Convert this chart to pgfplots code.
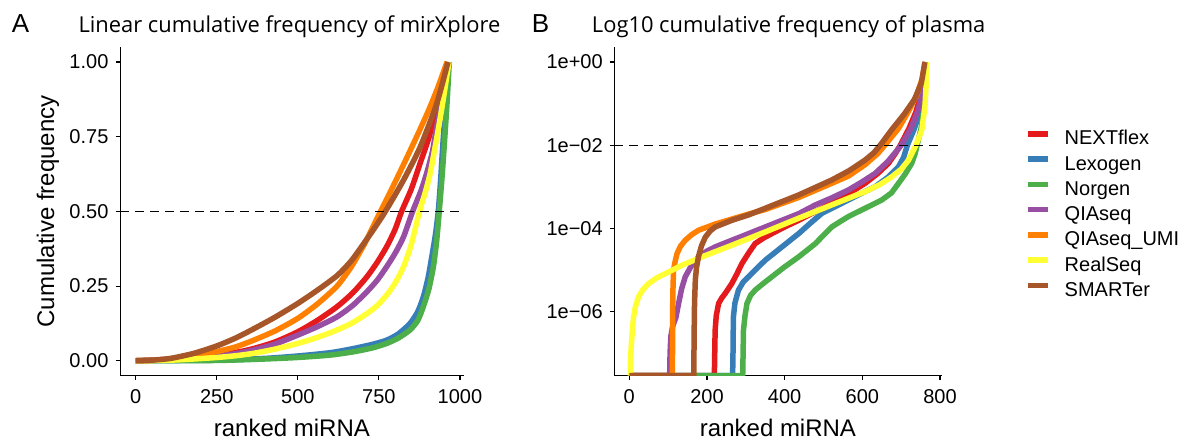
\documentclass[border=0pt]{standalone}
\usepackage{fontspec}
\setmainfont{Liberation Sans}
\newfontfamily\titlefont{Open Sans}
\usepackage{pgfplots}
\pgfplotsset{compat=1.18}

\definecolor{cRed}{HTML}{E41A1C}
\definecolor{cBlue}{HTML}{377EB8}
\definecolor{cGreen}{HTML}{4DAF4A}
\definecolor{cPurple}{HTML}{984EA3}
\definecolor{cOrange}{HTML}{FF7F00}
\definecolor{cYellow}{HTML}{FFFF33}
\definecolor{cBrown}{HTML}{A65628}

\pgfplotsset{
  panel/.style={
    scale only axis,
    axis lines=left,
    axis line style={-, line width=1.1pt, black},
    tick align=outside,
    major tick length=4.5pt,
    tick style={line width=1.1pt, black},
    ticklabel style={font=\fontsize{20}{24}\selectfont, inner sep=0pt},
    yticklabel style={xshift=-7pt},
    xticklabel style={yshift=-9pt},
  },
  curve/.style={line width=5.5pt, line join=round},
  hline/.style={black, line width=1.2pt, dash pattern=on 9pt off 6pt, forget plot},
}

\begin{document}
\begin{tikzpicture}
\useasboundingbox (0,0) rectangle (1182pt,443pt);

% panel A
\begin{axis}[panel,
  at={(120.1pt,67.3pt)}, anchor=south west,
  width=343.5pt, height=328.6pt,
  xmin=-48.15, xmax=1011.15, ymin=-0.05, ymax=1.05,
  xtick={0,250,500,750,1000}, xticklabels={0,250,500,750,1000},
  ytick={0,0.25,0.5,0.75,1}, yticklabels={0.00,0.25,0.50,0.75,1.00},
]
% NEXTflex
\addplot[curve, cRed, smooth, tension=0.4] coordinates {(0,0) (108,0.005) (180,0.011) (251,0.019) (310,0.028) (364,0.041) (430,0.063) (500,0.097) (560,0.135) (621,0.181) (670,0.228) (713,0.281) (745,0.33) (774,0.382) (800,0.44) (820,0.5) (850,0.575) (877,0.661) (905,0.75) (928,0.850) (948,0.93) (962,1)};
% Lexogen
\addplot[curve, cBlue, smooth, tension=0.4] coordinates {(0,0) (251,0.002) (400,0.008) (500,0.016) (600,0.027) (672,0.041) (730,0.055) (774,0.069) (810,0.09) (846,0.125) (870,0.165) (887,0.214) (902,0.28) (913,0.348) (924,0.42) (933,0.5) (940,0.6) (946,0.705) (955,0.85) (964,1)};
% Norgen
\addplot[curve, cGreen, smooth, tension=0.4] coordinates {(0,0) (251,0.001) (400,0.006) (500,0.011) (600,0.019) (672,0.030) (730,0.043) (774,0.058) (810,0.076) (846,0.103) (870,0.135) (887,0.181) (904,0.24) (918,0.315) (928,0.40) (936,0.5) (945,0.62) (954,0.761) (961,0.88) (967,1)};
% QIAseq
\addplot[curve, cPurple, smooth, tension=0.4] coordinates {(0,0) (108,0.004) (180,0.009) (251,0.016) (310,0.024) (364,0.036) (430,0.056) (500,0.086) (560,0.114) (621,0.147) (670,0.186) (713,0.231) (745,0.27) (774,0.315) (800,0.36) (826,0.415) (854,0.5) (880,0.57) (897,0.627) (915,0.70) (928,0.783) (948,0.89) (963,1)};
% QIAseq_UMI
\addplot[curve, cOrange, smooth, tension=0.4] coordinates {(0,0) (50,0.001) (108,0.006) (180,0.017) (251,0.031) (310,0.047) (364,0.069) (430,0.1) (500,0.142) (560,0.19) (621,0.25) (665,0.315) (705,0.39) (730,0.445) (755,0.5) (785,0.565) (815,0.632) (847,0.705) (877,0.775) (905,0.843) (930,0.91) (960,1)};
% RealSeq
\addplot[curve, cYellow, smooth, tension=0.4] coordinates {(0,0) (108,0.002) (180,0.006) (251,0.011) (310,0.017) (364,0.025) (430,0.039) (500,0.058) (560,0.078) (621,0.103) (670,0.128) (713,0.158) (745,0.185) (774,0.22) (800,0.26) (826,0.315) (850,0.39) (875,0.5) (892,0.56) (908,0.627) (924,0.72) (938,0.806) (952,0.9) (966,1)};
% SMARTer
\addplot[curve, cBrown, smooth, tension=0.4] coordinates {(0,0) (50,0.002) (108,0.008) (180,0.025) (251,0.05) (310,0.077) (364,0.107) (430,0.146) (500,0.192) (560,0.236) (621,0.285) (665,0.335) (705,0.395) (740,0.45) (770,0.5) (826,0.605) (877,0.715) (928,0.86) (963,1)};
\addplot[hline] coordinates {(-48.15,0.5) (1011.15,0.5)};
\end{axis}

% panel B
\begin{axis}[panel,
  at={(614.4pt,67.3pt)}, anchor=south west,
  width=327.3pt, height=328.6pt,
  xmin=-38.3, xmax=804.3, ymin=-7.55, ymax=0.36,
  xtick={0,200,400,600,800}, xticklabels={0,200,400,600,800},
  ytick={-6,-4,-2,0}, yticklabels={1e−06,1e−04,1e−02,1e+00},
  legend cell align=left,
  legend style={at={(1.2545,0.745)}, anchor=north west, draw=none, fill=none,
    inner sep=0pt,
    font=\fontsize{20}{24}\selectfont, row sep=8pt,
    nodes={inner sep=0pt, text height=13.5pt, text depth=3.5pt},
    /tikz/every odd column/.append style={column sep=14pt}},
  legend image code/.code={\draw[#1] (0pt,6pt) -- (20pt,6pt);},
]
\addplot[curve, cRed] coordinates {(0,-7.55) (219,-7.55) (220,-7.0) (221,-6.46) (224,-6.1) (230,-5.81) (238,-5.68) (247,-5.57) (264,-5.33) (277,-5.1) (290,-4.85) (307,-4.6) (324,-4.37) (345,-4.24) (367,-4.13) (400,-3.97) (436,-3.81) (479,-3.6) (521,-3.40) (564,-3.17) (607,-2.92) (640,-2.68) (667,-2.44) (685,-2.2) (698,-2.0) (720,-1.6) (738,-1.2) (750,-0.8) (758,-0.4) (763,0)};
\addlegendentry{NEXTflex}
\addplot[curve, cBlue] coordinates {(0,-7.55) (266,-7.55) (267,-7.0) (268,-6.14) (272,-5.8) (281,-5.49) (293,-5.3) (307,-5.17) (328,-4.97) (350,-4.77) (393,-4.45) (436,-4.13) (466,-3.88) (496,-3.64) (530,-3.48) (564,-3.32) (600,-3.15) (633,-3.0) (665,-2.78) (693,-2.52) (706,-2.3) (716,-2.0) (734,-1.6) (748,-1.2) (757,-0.8) (761,-0.4) (763,0)};
\addlegendentry{Lexogen}
\addplot[curve, cGreen] coordinates {(0,-7.55) (292,-7.55) (293,-7.0) (294,-6.45) (298,-6.1) (303,-5.81) (312,-5.62) (324,-5.49) (345,-5.33) (367,-5.17) (400,-4.93) (436,-4.69) (479,-4.37) (521,-3.97) (543,-3.84) (564,-3.72) (607,-3.52) (650,-3.32) (675,-3.15) (693,-2.92) (710,-2.7) (727,-2.44) (736,-2.2) (742,-1.96) (751,-1.6) (758,-1.2) (761,-0.8) (763,-0.4) (764,0)};
\addlegendentry{Norgen}
\addplot[curve, cPurple] coordinates {(0,-7.55) (104,-7.55) (105,-7.0) (107,-6.6) (112,-6.35) (120,-6.15) (127,-5.81) (135,-5.45) (144,-5.17) (160,-4.9) (178,-4.69) (200,-4.55) (221,-4.45) (264,-4.29) (307,-4.13) (350,-3.97) (393,-3.81) (436,-3.65) (479,-3.44) (521,-3.27) (564,-3.08) (600,-2.88) (633,-2.68) (665,-2.4) (690,-2.12) (700,-2.0) (725,-1.6) (742,-1.2) (753,-0.8) (759,-0.4) (763,0)};
\addlegendentry{QIAseq}
\addplot[curve, cOrange] coordinates {(0,-7.55) (111,-7.55) (111.5,-6.5) (112,-5.6) (114,-5.0) (118,-4.8) (123,-4.61) (132,-4.43) (144,-4.29) (160,-4.16) (178,-4.05) (221,-3.9) (264,-3.78) (307,-3.66) (350,-3.55) (436,-3.26) (521,-2.92) (565,-2.74) (607,-2.47) (640,-2.2) (658,-2.0) (693,-1.6) (718,-1.2) (740,-0.8) (754,-0.4) (762,0)};
\addlegendentry{QIAseq\_UMI}
\addplot[curve, cYellow] coordinates {(0,-7.55) (2.5,-7.55) (3,-7.2) (5,-6.85) (8,-6.45) (11,-6.14) (16,-5.88) (24,-5.65) (35,-5.48) (50,-5.33) (70,-5.2) (93,-5.09) (136,-4.89) (187,-4.69) (264,-4.41) (350,-4.09) (436,-3.76) (521,-3.44) (607,-3.12) (645,-2.95) (676,-2.76) (700,-2.58) (719,-2.36) (738,-2.0) (753,-1.64) (761,-1.08) (764,-0.6) (766,0)};
\addlegendentry{RealSeq}
\addplot[curve, cBrown] coordinates {(0,-7.55) (166,-7.55) (167,-6.5) (168,-5.8) (170,-5.25) (173,-4.95) (178,-4.69) (186,-4.42) (196,-4.21) (208,-4.07) (221,-3.97) (264,-3.81) (307,-3.68) (350,-3.52) (436,-3.2) (521,-2.84) (565,-2.62) (607,-2.36) (630,-2.18) (646,-2.0) (678,-1.6) (708,-1.25) (734,-0.9) (752,-0.5) (761,0)};
\addlegendentry{SMARTer}
\addplot[hline] coordinates {(-38.3,-2) (804.3,-2)};
\end{axis}

% panel letters, titles, axis titles
\node[anchor=base west, inner sep=0pt, font=\fontsize{26}{30}\selectfont] at (11.7pt,410.3pt) {A};
\node[anchor=base west, inner sep=0pt, font=\titlefont\fontsize{21.9}{26}\selectfont] at (78.3pt,410.7pt) {Linear cumulative frequency of mirXplore};
\node[anchor=base west, inner sep=0pt, font=\fontsize{26}{30}\selectfont] at (531.7pt,410.3pt) {B};
\node[anchor=base west, inner sep=0pt, font=\titlefont\fontsize{21.9}{26}\selectfont] at (591.7pt,410.7pt) {Log10 cumulative frequency of plasma};
\node[anchor=base, inner sep=0pt, font=\fontsize{24}{28}\selectfont] at (291.9pt,6.3pt) {ranked miRNA};
\node[anchor=base, inner sep=0pt, font=\fontsize{24}{28}\selectfont] at (778pt,6.3pt) {ranked miRNA};
\node[anchor=base, rotate=90, inner sep=0pt, font=\fontsize{24}{28}\selectfont] at (54pt,231.6pt) {Cumulative frequency};
\end{tikzpicture}
\end{document}
